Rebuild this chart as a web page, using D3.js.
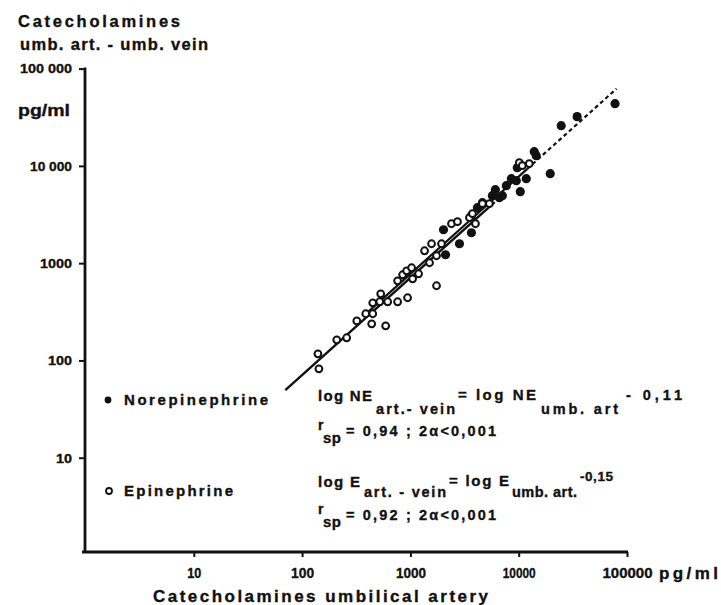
<!DOCTYPE html>
<html>
<head>
<meta charset="utf-8">
<script src="https://cdn.jsdelivr.net/npm/d3@7"></script>
<style>
  html, body { margin: 0; padding: 0; background: #fff; }
  svg { display: block; }
  text { font-family: "Liberation Sans", Arial, sans-serif; font-weight: bold; fill: #111;
         stroke: #111; stroke-width: 0.35px; }
</style>
</head>
<body>
<svg id="chart" width="721" height="605"></svg>
<script>
// Epinephrine: umbilical artery concentration vs artery-vein difference (pg/ml)
const epiArtery = [140, 143, 209, 258, 320, 387, 449, 439, 591, 449, 532, 521, 617, 762, 942,
  762, 848, 923, 1026, 1048, 1190, 1743, 1351, 1568, 1743, 1502, 1938, 2395, 2720, 3509,
  3986, 3739, 4622, 5361, 10127, 10793, 12518];
const epiDiff = [117, 82, 163, 171, 255, 302, 302, 238, 227, 391, 484, 401, 401, 401, 441,
  659, 760, 835, 897, 691, 778, 586, 1341, 1583, 1192, 1010, 1583, 2543, 2667, 2932,
  2543, 3223, 4084, 4084, 10786, 10048, 10534];

// Norepinephrine: umbilical artery concentration vs artery-vein difference (pg/ml)
const neArtery = [2022, 2110, 2838, 3660, 3660, 4157, 4622, 6088, 5713, 6628, 7063, 7687,
  8549, 9504, 10344, 11748, 13915, 14527, 19543, 24680, 34640, 77550, 9705];
const neDiff = [2206, 1220, 1583, 2055, 3073, 3715, 4182, 5690, 4936, 4708, 4936, 6256,
  7385, 7041, 5428, 7385, 14003, 12732, 8312, 25924, 32085, 43640, 9583];

// Regression intercepts in log space: log diff = log artery + intercept
const neIntercept = -0.11;
const eIntercept = -0.15;
const eLineRange = [70, 6000];
const neSolidRange = [400, 12000];
const neDashedRange = [12000, 80000];

const xTicks = [10, 100, 1000, 10000, 100000];
const xTickLabels = ["10", "100", "1000", "10000", "100000"];
const yTicks = [10, 100, 1000, 10000, 100000];
const yTickLabels = ["10", "100", "1000", "10 000", "100 000"];

const svg = d3.select("#chart");

const x = d3.scaleLog().domain([1, 100000]).range([85.5, 627]);
const y = d3.scaleLog().domain([1, 100000]).range([555, 68.6]);

// Axes
const yLabelWidth = { "10": 16, "100": 24, "1000": 32, "10 000": 42, "100 000": 52 };
const yAxis = d3.axisLeft(y).tickValues(yTicks).tickSize(6).tickFormat((d, i) => yTickLabels[i]);
const gy = svg.append("g").attr("transform", "translate(85,0)").call(yAxis);
gy.select(".domain").remove();
gy.append("line").attr("x1", 0).attr("x2", 0).attr("y1", y(100000) - 1).attr("y2", 553)
  .attr("stroke", "#111").attr("stroke-width", 2.8);
gy.selectAll(".tick line").attr("stroke", "#111").attr("stroke-width", 2);
gy.selectAll(".tick text").attr("x", -13).attr("font-size", 13.5).attr("fill", "#111")
  .style("font-family", "'Liberation Sans', Arial, sans-serif")
  .attr("textLength", (d, i) => yLabelWidth[yTickLabels[i]]).attr("lengthAdjust", "spacingAndGlyphs");

const xLabelWidth = { "10": 14, "100": 23, "1000": 30, "10000": 33, "100000": 50 };
const xAxis = d3.axisBottom(x).tickValues(xTicks).tickSize(5).tickFormat((d, i) => xTickLabels[i]);
const gx = svg.append("g").attr("transform", "translate(0,552)").call(xAxis);
gx.select(".domain").remove();
gx.append("line").attr("x1", 82).attr("x2", x(100000) + 1).attr("y1", 0).attr("y2", 0)
  .attr("stroke", "#111").attr("stroke-width", 2.8);
gx.selectAll(".tick line").attr("stroke", "#111").attr("stroke-width", 2);
gx.selectAll(".tick text").attr("y", 16).attr("font-size", 14).attr("fill", "#111")
  .style("font-family", "'Liberation Sans', Arial, sans-serif")
  .attr("textLength", (d, i) => xLabelWidth[xTickLabels[i]]).attr("lengthAdjust", "spacingAndGlyphs");

// Regression lines
const line = d3.line().x(d => x(d[0])).y(d => y(d[1]));
function regLine(range, intercept) {
  return range.map(v => [v, v * Math.pow(10, intercept)]);
}
svg.append("path").attr("d", line(regLine(eLineRange, eIntercept)))
  .attr("fill", "none").attr("stroke", "#111").attr("stroke-width", 2.4);
svg.append("path").attr("d", line(regLine(neSolidRange, neIntercept)))
  .attr("fill", "none").attr("stroke", "#111").attr("stroke-width", 2.2);
svg.append("path").attr("d", line(regLine(neDashedRange, neIntercept)))
  .attr("fill", "none").attr("stroke", "#111").attr("stroke-width", 2.2)
  .attr("stroke-dasharray", "4,3");

// Points
const epi = epiArtery.map((a, i) => [a, epiDiff[i]]);
const ne = neArtery.map((a, i) => [a, neDiff[i]]);

svg.append("g").selectAll("circle").data(ne).join("circle")
  .attr("cx", d => x(d[0])).attr("cy", d => y(d[1])).attr("r", 4.6)
  .attr("fill", "#111");
svg.append("g").selectAll("circle").data(epi).join("circle")
  .attr("cx", d => x(d[0])).attr("cy", d => y(d[1])).attr("r", 3.4)
  .attr("fill", "#fff").attr("stroke", "#111").attr("stroke-width", 2);

// Text helper: letter-spaced bold labels fitted to a given width
function txt(s, px, py, size, len, adjust) {
  const t = svg.append("text").attr("x", px).attr("y", py).attr("font-size", size).text(s);
  if (len) t.attr("textLength", len).attr("lengthAdjust", adjust || "spacing");
  return t;
}
txt("Catecholamines", 18, 27, 16.5, 162);
txt("umb. art. - umb. vein", 20, 50, 16.5, 188);
txt("pg/ml", 18, 116, 17, 52, "spacingAndGlyphs");
txt("pg/ml", 659, 579, 17, 59);
txt("Catecholamines umbilical artery", 153, 602, 17, 335);

// Legend
svg.append("circle").attr("cx", 108).attr("cy", 400).attr("r", 3.4).attr("fill", "#111");
txt("Norepinephrine", 124, 405, 15, 144);
svg.append("circle").attr("cx", 109).attr("cy", 491).attr("r", 3).attr("fill", "#fff")
  .attr("stroke", "#111").attr("stroke-width", 1.8);
txt("Epinephrine", 124, 496, 15, 109);

// Regression equations
txt("log NE", 318, 401, 15, 54);
txt("art.- vein", 376, 414, 14.5, 79);
txt("= log NE", 458, 400, 15, 78);
txt("umb. art", 541, 414, 14.5, 77);
txt("- 0,11", 626, 400, 14.5, 56);

txt("r", 318, 430, 14);
txt("sp", 323, 443, 15, 18);
txt("= 0,94 ; 2\u03b1<0,001", 346, 436, 14.5, 150);

txt("log E", 318, 487, 15, 42);
txt("art. - vein", 364, 497, 14.5, 82);
txt("= log E", 449, 486, 15, 60);
txt("umb. art.", 512, 497, 14.5, 65);
txt("-0,15", 580, 481, 13.5, 33);

txt("r", 318, 514, 14);
txt("sp", 323, 527, 15, 18);
txt("= 0,92 ; 2\u03b1<0,001", 346, 520, 14.5, 150);
</script>
</body>
</html>
